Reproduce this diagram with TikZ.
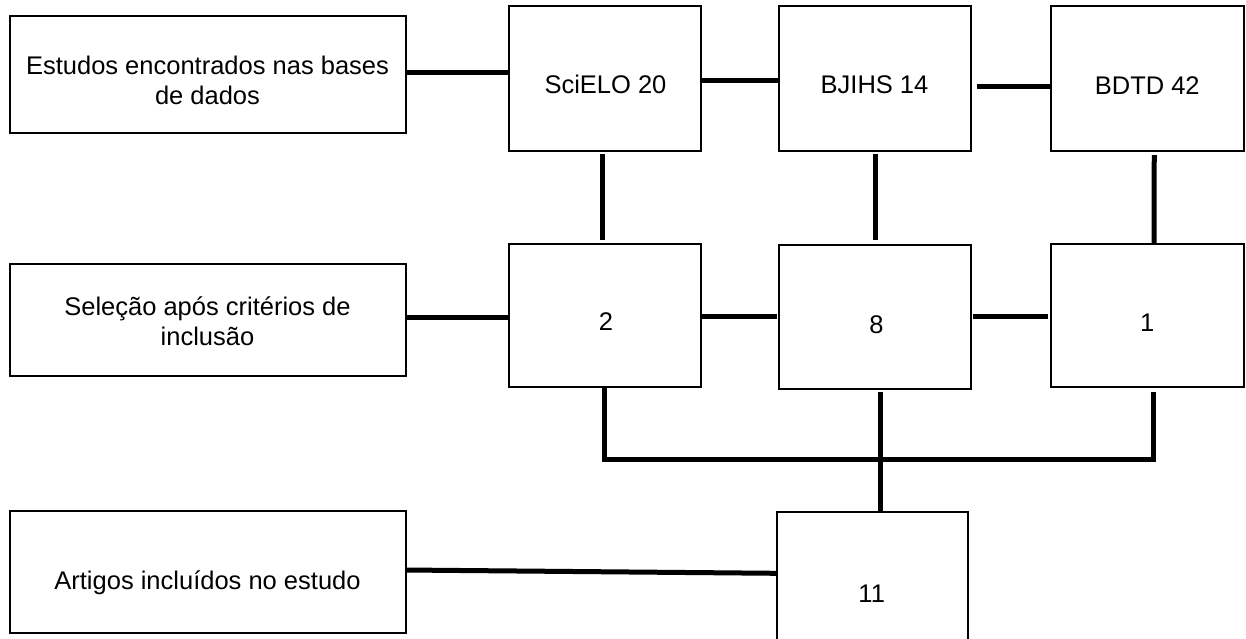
\documentclass[tikz,border=0pt]{standalone}
\usepackage{fontspec}
\setmainfont{Liberation Sans}
\begin{document}
\begin{tikzpicture}[x=1pt,y=-1pt,
  box/.style={draw=black, line width=2pt, fill=white, minimum width=192pt, inner sep=0pt, outer sep=0pt},
  lbox/.style={box, minimum width=396pt},
  txt/.style={font=\fontsize{25.5}{30}\selectfont, align=center, inner sep=0pt, text=black},
  link/.style={draw=black, line width=5pt}]
\useasboundingbox (0,0) rectangle (1246,638);
\fill[white] (0,0) rectangle (1246,638);
\clip (0,0) rectangle (1246,638);
% left column
\node[lbox, minimum height=116.5pt] (est) at (207.5,74.25) {};
\node[lbox, minimum height=112.5pt] (sel) at (207.5,319.75) {};
\node[lbox, minimum height=122.5pt] (art) at (207.5,571.75) {};
% top row
\node[box, minimum height=145pt] (sci) at (604.5,78.5) {};
\node[box, minimum height=145pt] (bji) at (874.5,78.5) {};
\node[box, minimum width=192.5pt, minimum height=145pt] (bdt) at (1147.25,78.5) {};
% middle row
\node[box, minimum height=143pt] (two) at (604.5,315) {};
\node[box, minimum height=144pt] (eig) at (875,317) {};
\node[box, minimum width=192.5pt, minimum height=143pt] (one) at (1147.25,315) {};
% bottom
\node[box, minimum width=191pt, minimum height=146pt] (ele) at (872.5,584.7) {};
% texts
\node[txt] (est-t) at ([yshift=-6pt]est.center) {Estudos encontrados nas bases\\de dados};
\node[txt] (sel-t) at ([yshift=-1pt]sel.center) {Seleção após critérios de\\inclusão};
\node[txt] (art-t) at ([yshift=-11pt]art.center) {Artigos incluídos no estudo};
\node[txt] (sci-t) at ([xshift=1pt,yshift=-6pt]sci.center) {SciELO 20};
\node[txt] (bji-t) at ([yshift=-6pt]bji.center) {BJIHS 14};
\node[txt] (bdt-t) at ([yshift=-7pt]bdt.center) {BDTD 42};
\node[txt] (two-t) at ([xshift=1.5pt,yshift=-7pt]two.center) {2};
\node[txt] (eig-t) at ([xshift=1.5pt,yshift=-7.7pt]eig.center) {8};
\node[txt] (one-t) at ([yshift=-7.7pt]one.center) {1};
\node[txt] (ele-t) at (871.7,594) {11};
% connectors
\draw[link] ([yshift=2.25pt]est.east) -- ([yshift=6.5pt]sci.west);
\draw[link] ([yshift=-1.8pt]sci.east) -- ([yshift=-1.8pt]bji.west);
\draw[link] ([xshift=6.5pt,yshift=-7.5pt]bji.east) -- ([yshift=-7.5pt]bdt.west);
\draw[link] ([xshift=-2.5pt,yshift=-3pt]sci.south) -- ([xshift=-2.5pt,yshift=3.3pt]two.north);
\draw[link] ([xshift=0.5pt,yshift=-3pt]bji.south) -- ([yshift=5pt]eig.north);
\draw[link] ([xshift=7pt,yshift=-4pt]bdt.south) -- ([xshift=6.75pt]one.north);
\draw[link] ([yshift=2.75pt]sel.east) -- ([yshift=-2pt]two.west);
\draw[link] ([yshift=-1pt]two.east) -- ([xshift=-2.5pt,yshift=1pt]eig.west);
\draw[link] ([xshift=2pt,yshift=1pt]eig.east) -- ([xshift=-3pt,yshift=-1pt]one.west);
\coordinate (busL) at (604,459);
\coordinate (busR) at (1153,459);
\draw[link] ([xshift=-0.5pt]two.south) -- (busL) -- (busR) -- ([xshift=5.75pt,yshift=-5.7pt]one.south);
\draw[link] ([xshift=5.5pt,yshift=-3pt]eig.south) -- ([xshift=8pt]ele.north);
\draw[link] ([yshift=1.75pt]art.east) -- ([yshift=11.4pt]ele.west);
\end{tikzpicture}
\end{document}
